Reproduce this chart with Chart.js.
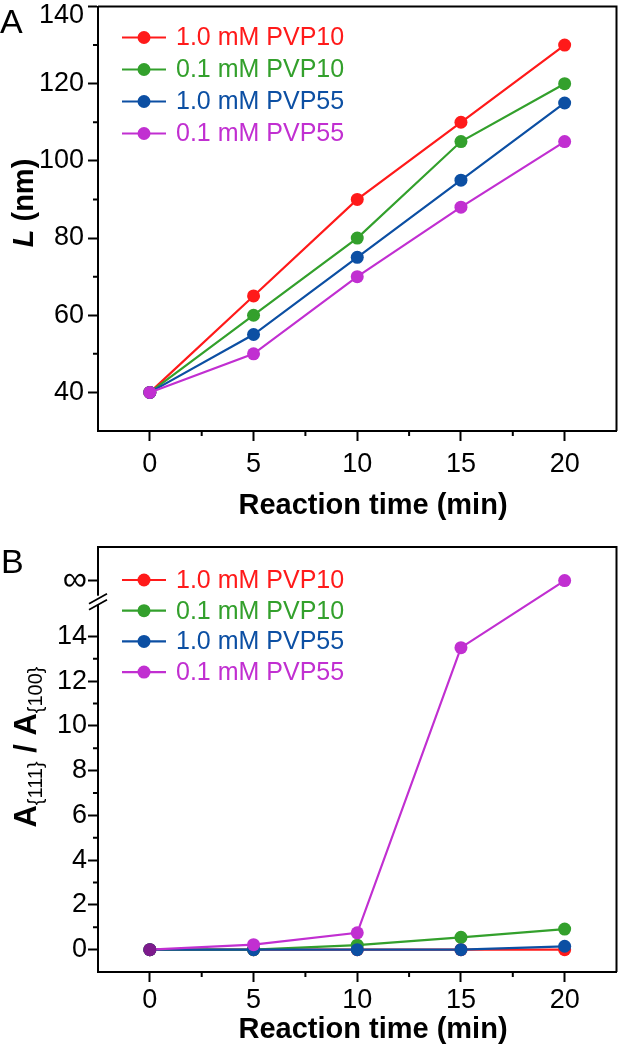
<!DOCTYPE html>
<html>
<head>
<meta charset="utf-8">
<script src="https://cdn.jsdelivr.net/npm/chart.js@4.4.1/dist/chart.umd.min.js"></script>
<style>
  html, body { margin: 0; padding: 0; background: #fff; }
  .panel { position: absolute; left: 0; width: 623px; height: 525px; }
  #panelA { top: 0; }
  #panelB { top: 525px; }
</style>
</head>
<body>
<div class="panel" id="panelA"><canvas id="chartA" width="623" height="525"></canvas></div>
<div class="panel" id="panelB"><canvas id="chartB" width="623" height="525"></canvas></div>
<script>
const times = [0, 5, 10, 15, 20];
const seriesNames = ["1.0 mM PVP10", "0.1 mM PVP10", "1.0 mM PVP55", "0.1 mM PVP55"];
const seriesColors = ["#ff1a1a", "#33a02c", "#0c4fa3", "#c12fd1"];

// panel A - L (nm)
const lenPvp10High = [40, 65, 90, 110, 130];
const lenPvp10Low = [40, 60, 80, 105, 120];
const lenPvp55High = [40, 55, 75, 95, 115];
const lenPvp55Low = [40, 50, 70, 88, 105];

// panel B - A{111}/A{100}; infinity is put above the axis break
const INF = 16.5;
const ratioPvp10High = [0, 0, 0, 0, 0];
const ratioPvp10Low = [0, 0, 0.2, 0.55, 0.92];
const ratioPvp55High = [0, 0, 0, 0, 0.15];
const ratioPvp55Low = [0, 0.22, 0.75, 13.5, INF];

const xTicks = [0, 5, 10, 15, 20];
const xMinor = [2.5, 7.5, 12.5, 17.5];
const yTicksA = [40, 60, 80, 100, 120, 140];
const yMinorA = [50, 70, 90, 110, 130];
const yTicksB = [0, 2, 4, 6, 8, 10, 12, 14, INF];
const yMinorB = [1, 3, 5, 7, 9, 11, 13];

const FONT = '"Liberation Sans", Arial, Helvetica, sans-serif';
Chart.defaults.font.family = FONT;
Chart.defaults.color = "#000";

/**
 * Frame, minor ticks, legend inside the plot, axis titles and panel letter
 */
const decor = {
  id: "decor",
  afterDraw(chart, args, o) {
    const { ctx, chartArea: a, scales: { x, y } } = chart;
    ctx.save();
    ctx.strokeStyle = "#000";
    ctx.lineWidth = 2;
    ctx.beginPath();
    ctx.moveTo(a.left, a.top);
    ctx.lineTo(a.right, a.top);
    ctx.lineTo(a.right, a.bottom);
    ctx.stroke();

    ctx.beginPath();
    o.xMinor.forEach((v) => {
      const px = x.getPixelForValue(v);
      ctx.moveTo(px, a.bottom);
      ctx.lineTo(px, a.bottom + 5);
    });
    o.yMinor.forEach((v) => {
      const py = y.getPixelForValue(v);
      ctx.moveTo(a.left, py);
      ctx.lineTo(a.left - 5, py);
    });
    ctx.stroke();

    // axis break
    if (o.breakAt !== undefined) {
      const py = y.getPixelForValue(o.breakAt);
      ctx.fillStyle = "#fff";
      ctx.fillRect(a.left - 2, py - 5, 4, 9);
      ctx.beginPath();
      ctx.moveTo(a.left - 9, py + 3);
      ctx.lineTo(a.left + 9, py - 7);
      ctx.moveTo(a.left - 9, py + 9);
      ctx.lineTo(a.left + 9, py - 1);
      ctx.lineWidth = 1.8;
      ctx.stroke();
    }

    // shifted top label
    if (o.topLabel) {
      ctx.fillStyle = "#000";
      ctx.font = "27px " + FONT;
      ctx.textAlign = "right";
      ctx.textBaseline = "middle";
      ctx.fillText(o.topLabel.text, a.left - 14, y.getPixelForValue(o.topLabel.value) + 9);
    }

    // legend
    ctx.font = "25px " + FONT;
    ctx.textAlign = "left";
    ctx.textBaseline = "middle";
    chart.data.datasets.forEach((ds, i) => {
      const yy = a.top + o.legendTop + i * o.legendGap;
      ctx.strokeStyle = ds.borderColor;
      ctx.fillStyle = ds.borderColor;
      ctx.lineWidth = 2.2;
      ctx.beginPath();
      ctx.moveTo(122, yy);
      ctx.lineTo(166, yy);
      ctx.stroke();
      ctx.beginPath();
      ctx.arc(144, yy, 6.5, 0, Math.PI * 2);
      ctx.fill();
      ctx.fillText(ds.label, 176, yy + 1);
    });

    // x title
    ctx.fillStyle = "#000";
    ctx.font = "bold 29px " + FONT;
    ctx.textAlign = "center";
    ctx.fillText(o.xTitle.text, o.xTitle.x, o.xTitle.y);

    // y title made of parts, rotated
    ctx.textAlign = "left";
    ctx.textBaseline = "alphabetic";
    let total = 0;
    o.yTitle.parts.forEach((p) => {
      ctx.font = p.font;
      total += ctx.measureText(p.text).width;
    });
    ctx.translate(o.yTitle.x, o.yTitle.y);
    ctx.rotate(-Math.PI / 2);
    let pos = -total / 2;
    o.yTitle.parts.forEach((p) => {
      ctx.font = p.font;
      ctx.fillText(p.text, pos, p.dy || 0);
      pos += ctx.measureText(p.text).width;
    });
    ctx.setTransform(1, 0, 0, 1, 0, 0);

    ctx.font = "34px " + FONT;
    ctx.fillText(o.panel.text, o.panel.x, o.panel.y);
    ctx.restore();
  },
};

function makeDatasets(values, firstPointColor) {
  return values.map((data, i) => {
    const pts = data.map(() => seriesColors[i]);
    if (i === 3 && firstPointColor) pts[0] = firstPointColor;
    return {
      label: seriesNames[i],
      data: times.map((t, j) => ({ x: t, y: data[j] })),
      borderColor: seriesColors[i],
      backgroundColor: seriesColors[i],
      pointBackgroundColor: pts,
      pointBorderColor: pts,
      borderWidth: 2.2,
      pointRadius: 6.5,
      pointBorderWidth: 0,
      tension: 0,
      order: 4 - i,
    };
  });
}

function makeChart(canvasId, datasets, cfg) {
  return new Chart(document.getElementById(canvasId), {
    type: "line",
    data: { datasets },
    plugins: [decor],
    options: {
      responsive: false,
      animation: false,
      events: [],
      layout: { padding: { top: cfg.padTop, right: 2, left: 0, bottom: 0 } },
      plugins: {
        legend: { display: false },
        tooltip: { enabled: false },
        decor: cfg.decor,
      },
      scales: {
        x: {
          type: "linear",
          min: -2.5,
          max: 22.5,
          afterBuildTicks: (s) => (s.ticks = xTicks.map((v) => ({ value: v }))),
          afterFit: (s) => {
            s.height = cfg.xHeight;
            s.paddingLeft = 0;
            s.paddingRight = 0;
          },
          grid: { drawOnChartArea: false, drawTicks: true, tickLength: 10, tickWidth: 2, tickColor: "#000" },
          border: { display: true, color: "#000", width: 2 },
          ticks: { font: { size: 27 }, padding: cfg.xPad, maxRotation: 0, color: "#000" },
        },
        y: {
          min: cfg.yMin,
          max: cfg.yMax,
          afterBuildTicks: (s) => (s.ticks = cfg.yTicks.map((v) => ({ value: v }))),
          afterFit: (s) => {
            s.width = 98;
            s.paddingTop = 0;
            s.paddingBottom = 0;
          },
          grid: { drawOnChartArea: false, drawTicks: true, tickLength: 10, tickWidth: 2, tickColor: "#000" },
          border: { display: true, color: "#000", width: 2 },
          ticks: {
            padding: cfg.yPad,
            color: "#000",
            font: (c) => ({ size: c.tick && c.tick.value === INF ? 34 : 27 }),
            callback: cfg.yLabel,
          },
        },
      },
    },
  });
}

makeChart("chartA", makeDatasets([lenPvp10High, lenPvp10Low, lenPvp55High, lenPvp55Low]), {
  padTop: 6,
  xHeight: 94,
  xPad: 7,
  yPad: 4,
  yMin: 30,
  yMax: 140,
  yTicks: yTicksA,
  yLabel: (v) => (v === 140 ? "" : v),
  decor: {
    xMinor: xMinor,
    yMinor: yMinorA,
    topLabel: { value: 140, text: "140" },
    legendTop: 31,
    legendGap: 32,
    xTitle: { text: "Reaction time (min)", x: 373, y: 506 },
    yTitle: {
      x: 33,
      y: 203,
      parts: [
        { text: "L", font: "italic bold 29px " + FONT },
        { text: " (nm)", font: "bold 29px " + FONT },
      ],
    },
    panel: { text: "A", x: 0, y: 33 },
  },
});

makeChart("chartB", makeDatasets([ratioPvp10High, ratioPvp10Low, ratioPvp55High, ratioPvp55Low], "#7d1b8c"), {
  padTop: 22,
  xHeight: 78,
  xPad: 2,
  yPad: 1,
  yMin: -1,
  yMax: 18,
  yTicks: yTicksB,
  yLabel: (v) => (v === INF ? "\u221E" : v),
  decor: {
    xMinor: xMinor,
    yMinor: yMinorB,
    breakAt: 15.6,
    legendTop: 33,
    legendGap: 30.7,
    xTitle: { text: "Reaction time (min)", x: 373, y: 505 },
    yTitle: {
      x: 36,
      y: 222,
      parts: [
        { text: "A", font: "bold 31px " + FONT },
        { text: "{111}", font: "20px " + FONT, dy: 6 },
        { text: " / ", font: "bold 31px " + FONT },
        { text: "A", font: "bold 31px " + FONT },
        { text: "{100}", font: "20px " + FONT, dy: 6 },
      ],
    },
    panel: { text: "B", x: 1, y: 48 },
  },
});
</script>
</body>
</html>
